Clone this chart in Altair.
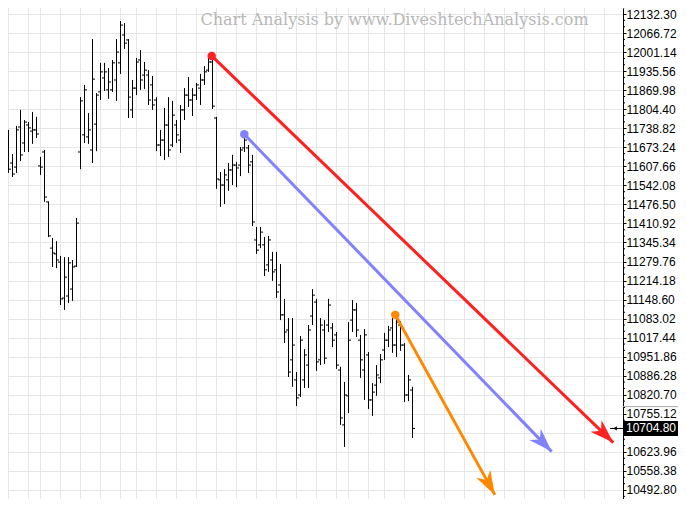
import math
import altair as alt
import pandas as pd

# ---------------- data ----------------
bar_index = list(range(104))
opens = [11767, 11853, 11729, 11619, 11605, 11743, 11688, 11750, 11729, 11733,
         11609, 11657, 11485, 11326, 11306, 11278, 11154, 11161, 11185, 11264,
         11657, 11716, 11709, 11664, 11753, 11864, 11912, 11871, 11871, 11905,
         11964, 12060, 12043, 11802, 11877, 11974, 11922, 11922, 11888, 11836,
         11681, 11698, 11750, 11681, 11750, 11698, 11802, 11853, 11836, 11853,
         11877, 11905, 11939, 11967, 11774, 11561, 11543, 11561, 11595, 11612,
         11612, 11671, 11671, 11623, 11354, 11337, 11337, 11268, 11285, 11251,
         11199, 11096, 11044, 10941, 10872, 10820, 10872, 10923, 11092, 11140,
         10941, 11044, 11061, 11051, 11027, 10906, 10717, 10817, 11078, 11113,
         11009, 10906, 10958, 10803, 10854, 10879, 10975, 11009, 11051, 10992,
         11061, 10992, 10820, 10837]
highs = [11812, 11864, 11733, 11650, 11747, 11802, 11767, 11760, 11795, 11778,
         11640, 11664, 11487, 11361, 11350, 11299, 11295, 11295, 11285, 11430,
         11846, 11888, 11791, 12046, 11860, 11964, 11964, 11946, 11974, 12046,
         12108, 12101, 12046, 11905, 11981, 12008, 11967, 11939, 11919, 11846,
         11733, 11809, 11846, 11833, 11767, 11819, 11877, 11915, 11877, 11895,
         11926, 11953, 11984, 11991, 11778, 11588, 11598, 11619, 11647, 11623,
         11674, 11719, 11681, 11647, 11399, 11399, 11364, 11368, 11313, 11313,
         11271, 11151, 11085, 11085, 10899, 11023, 10978, 11061, 11185, 11151,
         11085, 11078, 11151, 11068, 11037, 10917, 10865, 11071, 11147, 11137,
         11027, 11047, 10968, 10861, 10923, 10961, 11034, 11058, 11085, 11096,
         11075, 10999, 10889, 10848]
lows = [11733, 11757, 11585, 11571, 11585, 11626, 11657, 11657, 11685, 11705,
        11578, 11485, 11364, 11261, 11257, 11130, 11113, 11137, 11144, 11261,
        11598, 11688, 11685, 11619, 11660, 11836, 11867, 11840, 11864, 11833,
        11926, 12012, 11774, 11774, 11853, 11871, 11874, 11819, 11802, 11660,
        11643, 11629, 11640, 11674, 11688, 11654, 11767, 11812, 11781, 11836,
        11819, 11888, 11933, 11805, 11530, 11468, 11478, 11523, 11543, 11536,
        11574, 11657, 11585, 11402, 11306, 11326, 11230, 11244, 11213, 11154,
        11078, 10999, 10882, 10848, 10782, 10813, 10844, 10844, 11061, 10903,
        10923, 10927, 11037, 10985, 10910, 10717, 10641, 10758, 11037, 11020,
        10879, 10803, 10772, 10748, 10817, 10861, 10941, 10985, 10965, 10951,
        10972, 10796, 10799, 10672]
closes = [11791, 11760, 11598, 11581, 11733, 11647, 11760, 11740, 11733, 11719,
          11605, 11502, 11368, 11309, 11285, 11151, 11226, 11275, 11261, 11412,
          11833, 11871, 11733, 11908, 11853, 11933, 11933, 11898, 11964, 12001,
          12094, 12032, 11846, 11877, 11967, 11905, 11939, 11836, 11819, 11681,
          11698, 11750, 11664, 11784, 11716, 11802, 11853, 11836, 11853, 11888,
          11905, 11933, 11967, 11815, 11564, 11543, 11578, 11595, 11612, 11602,
          11664, 11698, 11612, 11416, 11319, 11381, 11251, 11354, 11244, 11175,
          11096, 11037, 10899, 10992, 10810, 11009, 10958, 11044, 11164, 10934,
          11061, 10947, 11130, 11009, 10923, 10741, 10820, 11009, 11113, 11044,
          10941, 11027, 10803, 10830, 10889, 10941, 11009, 11044, 10992, 11071,
          10992, 10820, 10872, 10704.80]

# weekly vertical grid lines (bar index units, future weeks included)
grid_weeks = [2, 7, 10, 15, 20, 25, 30, 34, 39, 44, 49, 54, 59, 64, 69, 74, 79,
              84, 87, 92, 96, 101, 106, 111, 116, 121, 126, 131, 136, 141, 146,
              151, 156]

axis_ticks = [12132.30, 12066.72, 12001.14, 11935.56, 11869.98, 11804.40,
              11738.82, 11673.24, 11607.66, 11542.08, 11476.50, 11410.92,
              11345.34, 11279.76, 11214.18, 11148.60, 11083.02, 11017.44,
              10951.86, 10886.28, 10820.70, 10755.12, 10689.54, 10623.96,
              10558.38, 10492.80]

arrow_names = ["red", "blue", "orange"]
arrow_colors = ["#ff2020", "#8282ff", "#ff8800"]
arrow_start_i = [52.8, 60.95, 98.7]
arrow_start_p = [11988, 11718, 11096]
arrow_end_i = [153.2, 137.8, 123.6]
arrow_end_p = [10656, 10625, 10476]

last_price = 10704.80
separator_price = 10780
watermark = "Chart Analysis by www.DiveshtechAnalysis.com"

# ---------------- layout ----------------
PLOT_W = 615
PLOT_H = 491
X_DOMAIN = [1.875, 1.875 + PLOT_W / 4]
Y_DOMAIN = [10461.8, 12152.97]

xs = alt.Scale(domain=X_DOMAIN, nice=False, zero=False)
ys = alt.Scale(domain=Y_DOMAIN, nice=False, zero=False)
yaxis = alt.Axis(
    orient="right", values=axis_ticks, grid=True,
    labelExpr="abs(datum.value - %.2f) < 0.01 ? '' : format(datum.value, '.2f')" % axis_ticks[22],
    gridColor="#e6e6e6", gridWidth=1, domainColor="black", domainWidth=1,
    tickColor="black", tickSize=3, labelPadding=0, labelFont="Liberation Sans",
    labelFontSize=12, labelColor="black", labelOverlap=False, title=None)

bars = pd.DataFrame({"i": bar_index, "o": opens, "h": highs, "l": lows, "c": closes})

px_i = PLOT_W / (X_DOMAIN[1] - X_DOMAIN[0])
px_p = PLOT_H / (Y_DOMAIN[1] - Y_DOMAIN[0])
angles = []
for si, sp, ei, ep in zip(arrow_start_i, arrow_start_p, arrow_end_i, arrow_end_p):
    dx = (ei - si) * px_i
    dy = (sp - ep) * px_p
    angles.append((math.degrees(math.atan2(dx, -dy)) + 360) % 360)

arrows = pd.DataFrame({"name": arrow_names, "si": arrow_start_i, "sp": arrow_start_p,
                       "ei": arrow_end_i, "ep": arrow_end_p, "angle": angles})

color = alt.Color("name:N", scale=alt.Scale(domain=arrow_names, range=arrow_colors), legend=None)

minor = []
for v in axis_ticks:
    for j in (1, 2):
        minor.append(round(v - 65.58 * j / 3, 2))
minor += [axis_ticks[0] + 65.58 / 3]

X = lambda f: alt.X(f, type="quantitative", scale=xs, axis=None)
Y = lambda f: alt.Y(f, type="quantitative", scale=ys, axis=yaxis)

vgrid = alt.Chart(pd.DataFrame({"g": grid_weeks})).mark_rule(
    color="#e6e6e6", strokeWidth=1, clip=True
).encode(x=X("g"))

hl = alt.Chart(bars).mark_rule(color="black", strokeWidth=1, clip=True).encode(
    x=X("i"), y=Y("l"), y2="h:Q")
open_t = alt.Chart(bars).mark_rule(color="black", strokeWidth=1, clip=True,
                                   xOffset=-2.5, x2Offset=0).encode(
    x=X("i"), x2="i:Q", y=Y("o"))
close_t = alt.Chart(bars).mark_rule(color="black", strokeWidth=1, clip=True,
                                    xOffset=0, x2Offset=2.5).encode(
    x=X("i"), x2="i:Q", y=Y("c"))

minor_t = alt.Chart(pd.DataFrame({"p": minor})).mark_rule(color="black", strokeWidth=1).encode(
    x=alt.value(PLOT_W), x2=alt.value(PLOT_W + 2), y=Y("p"))

sep = alt.Chart(pd.DataFrame({"p": [separator_price]})).mark_rule(color="#a8a8a8", strokeWidth=1).encode(
    x=alt.value(PLOT_W), x2=alt.value(PLOT_W + 55), y=Y("p"))

lines = alt.Chart(arrows).mark_rule(strokeWidth=3).encode(
    x=X("si"), x2="ei:Q", y=Y("sp"), y2="ep:Q", color=color)
head_path = "M0,0 L0.8,2.4 L0,1.7 L-0.8,2.4 Z"
heads = alt.Chart(arrows).mark_point(shape=head_path, filled=True, size=400, opacity=1,
                                     strokeWidth=0).encode(
    x=X("ei"), y=Y("ep"), angle=alt.Angle("angle:Q", scale=None), color=color)
dots = alt.Chart(arrows).mark_circle(size=72, opacity=1).encode(
    x=X("si"), y=Y("sp"), color=color)

wm = alt.Chart(pd.DataFrame({"t": [watermark]})).mark_text(
    font="DejaVu Serif", fontSize=16, color="#b8b8b8", align="center", baseline="middle"
).encode(text="t:N", x=alt.value(386.5), y=alt.value(11.5))

lp = pd.DataFrame({"p": [last_price], "t": [f"{last_price:.2f}"]})
marker_line = alt.Chart(lp).mark_rule(color="black", strokeWidth=1).encode(
    x=alt.value(602), x2=alt.value(615), y=Y("p"))
marker_head = alt.Chart(lp).mark_point(shape="triangle-left", filled=True, size=18,
                                       opacity=1, color="black").encode(
    x=alt.value(607), y=Y("p"))
box_path = "M-1,-0.2778 L1,-0.2778 L1,0.2778 L-1,0.2778 Z"
box = alt.Chart(lp).mark_point(shape=box_path, filled=True, size=2916, opacity=1,
                               color="black", strokeWidth=0).encode(
    x=alt.value(643), y=Y("p"))
box_text = alt.Chart(lp).mark_text(font="Liberation Sans", fontSize=12, color="white",
                                   align="center", baseline="middle").encode(
    text="t:N", x=alt.value(643), y=Y("p"))

chart = alt.layer(
    vgrid, hl, open_t, close_t, minor_t, sep, lines, heads, dots, wm,
    marker_line, marker_head, box, box_text
).properties(
    width=PLOT_W, height=PLOT_H,
    autosize=alt.AutoSizeParams(type="none"),
    padding={"left": 0, "top": 0, "right": 670 - PLOT_W, "bottom": 0},
    background="white",
).configure_view(stroke=None)

chart.save("out.html", embed_options={"renderer": "svg", "actions": False})
